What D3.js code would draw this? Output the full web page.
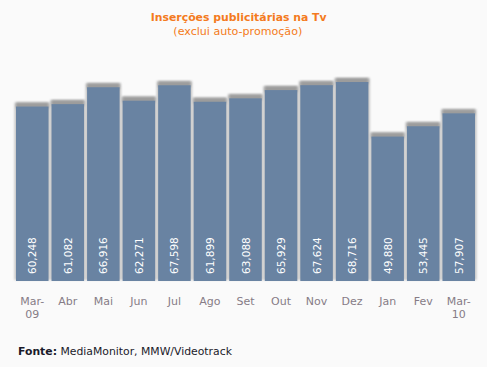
<!DOCTYPE html>
<html><head><meta charset="utf-8">
<script src="https://cdn.jsdelivr.net/npm/d3@7"></script>
<style>
html,body{margin:0;padding:0;background:#fafafa;}
svg{display:block;}
text{font-family:"DejaVu Sans",Verdana,sans-serif;}
</style></head><body>
<svg id="c" width="487" height="367"></svg>
<script>
const categories = ["Mar-\n09","Abr","Mai","Jun","Jul","Ago","Set","Out","Nov","Dez","Jan","Fev","Mar-\n10"];
const values = [60248,61082,66916,62271,67598,61899,63088,65929,67624,68716,49880,53445,57907];
const valueLabels = ["60,248","61,082","66,916","62,271","67,598","61,899","63,088","65,929","67,624","68,716","49,880","53,445","57,907"];
const title = "Inserções publicitárias na Tv";
const subtitle = "(exclui auto-promoção)";

const svg = d3.select("#c");
svg.append("rect").attr("width",487).attr("height",367).attr("fill","#fafafa");

const defs = svg.append("defs");
defs.append("filter").attr("id","blur").attr("x","-20%").attr("y","-20%").attr("width","140%").attr("height","140%")
  .append("feGaussianBlur").attr("stdDeviation",1.2);
defs.append("filter").attr("id","blur2").attr("x","-20%").attr("y","-50%").attr("width","140%").attr("height","200%")
  .append("feGaussianBlur").attr("stdDeviation",1.0);

const x = d3.scaleBand().domain(categories).range([16,475]).paddingInner(0.085).paddingOuter(0);
const y = d3.scaleLinear().domain([0,70000]).range([281,78.3]);

const g = svg.append("g");
// side shadows
g.selectAll("rect.sh").data(values).join("rect").attr("class","sh")
  .attr("x",(d,i)=>x(categories[i])-1.5)
  .attr("y",d=>y(d)-4)
  .attr("width",x.bandwidth()+3)
  .attr("height",d=>y(0)-y(d)+3)
  .attr("fill","#c4c4c4").attr("filter","url(#blur)");
// top shadows
g.selectAll("rect.tsh").data(values).join("rect").attr("class","tsh")
  .attr("x",(d,i)=>x(categories[i]))
  .attr("y",d=>y(d)-4)
  .attr("width",x.bandwidth())
  .attr("height",6)
  .attr("fill","#9c9c9c").attr("filter","url(#blur2)");
g.selectAll("rect.bar").data(values).join("rect").attr("class","bar")
  .attr("x",(d,i)=>x(categories[i]))
  .attr("y",d=>y(d))
  .attr("width",x.bandwidth())
  .attr("height",d=>y(0)-y(d))
  .attr("fill","#6983a2");

// value labels
g.selectAll("text.v").data(values).join("text").attr("class","v")
  .attr("transform",(d,i)=>`translate(${x(categories[i])+x.bandwidth()/2+4},274) rotate(-90)`)
  .attr("fill","#ffffff").attr("font-size","10.5px")
  .text((d,i)=>valueLabels[i]);

// x axis labels
const xl = g.selectAll("text.x").data(categories).join("text").attr("class","x")
  .attr("x",d=>x(d)+x.bandwidth()/2).attr("y",305)
  .attr("text-anchor","middle").attr("font-size","11px").attr("fill","#867c86");
xl.each(function(d){
  const parts = d.split("\n");
  const t = d3.select(this);
  parts.forEach((p,k)=>{
    t.append("tspan").attr("x",x(d)+x.bandwidth()/2).attr("dy",k===0?0:13).text(p);
  });
});

function fit(sel,w){
  const n = sel.node();
  let fs = parseFloat(sel.attr("font-size"));
  const cw = n.getComputedTextLength();
  if(cw>0) sel.attr("font-size",(fs*w/cw).toFixed(2)+"px");
}

const t1 = svg.append("text").attr("x",238.7).attr("y",21).attr("text-anchor","middle")
  .attr("font-weight","bold").attr("font-size","11px").attr("fill","#f47a20").text(title);
fit(t1,176);
const t2 = svg.append("text").attr("x",237.8).attr("y",35).attr("text-anchor","middle")
  .attr("font-size","11px").attr("fill","#f47a20").text(subtitle);
fit(t2,129);

const f = svg.append("text").attr("x",18).attr("y",355).attr("font-size","11px").attr("fill","#1a1a2a");
f.append("tspan").attr("font-weight","bold").text("Fonte:");
f.append("tspan").text(" MediaMonitor, MMW/Videotrack");
fit(f,214);
</script>
</body></html>
